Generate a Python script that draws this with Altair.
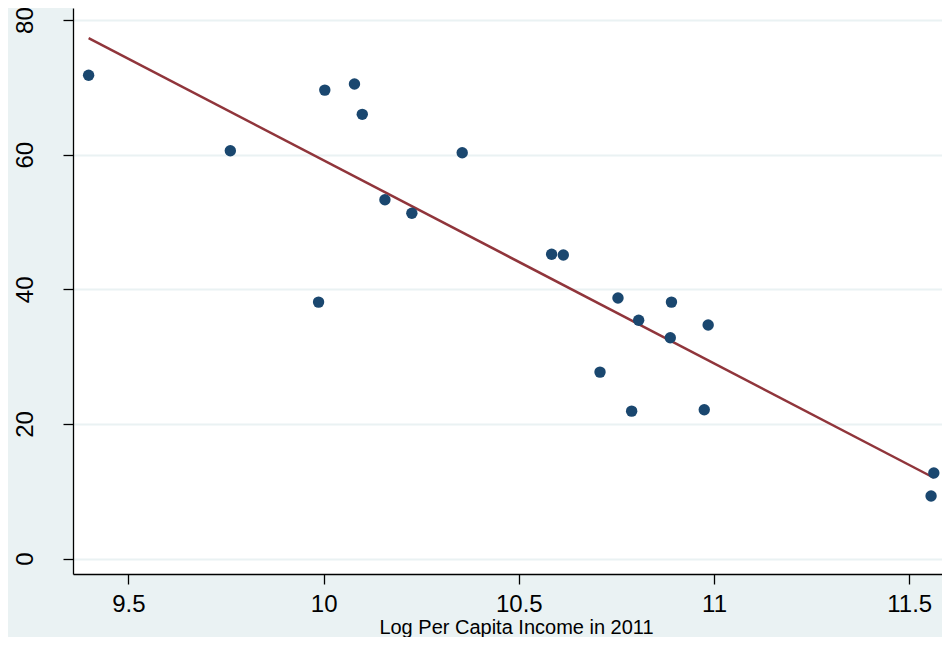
import altair as alt
import pandas as pd

# Data
log_income = [9.398, 9.761, 9.987, 10.003, 10.079, 10.099, 10.157, 10.226, 10.355,
              10.584, 10.614, 10.708, 10.754, 10.789, 10.807, 10.888, 10.891,
              10.975, 10.985, 11.563, 11.556]
outcome = [71.8, 60.6, 38.1, 69.6, 70.5, 66.0, 53.3, 51.3, 60.3,
           45.2, 45.1, 27.7, 38.7, 21.9, 35.4, 32.8, 38.1,
           22.1, 34.7, 12.7, 9.3]

x_ticks = [9.5, 10, 10.5, 11, 11.5]
y_ticks = [0, 20, 40, 60, 80]

df = pd.DataFrame({"x": log_income, "y": outcome})

BG = "#EAF2F3"
NAVY = "#1A476F"
MAROON = "#90353B"
FONT = "Liberation Sans"

xscale = alt.Scale(domain=[9.358, 11.584], nice=False, zero=False)
yscale = alt.Scale(domain=[-2.3, 81.8], nice=False, zero=False)

xaxis = alt.Axis(values=x_ticks, title="Log Per Capita Income in 2011", format="~g",
                 grid=False, domainColor="black", domainWidth=1.3,
                 tickColor="black", tickSize=10, tickWidth=1.3,
                 labelFontSize=24, labelFont=FONT, labelColor="black",
                 labelPadding=8, labelFlush=False,
                 titleFont=FONT, titleFontSize=20, titleFontWeight="normal",
                 titleColor="black", titlePadding=1, titleX=443,
                 titleAlign="center")
yaxis = alt.Axis(values=y_ticks, title=None, format="~g",
                 grid=True, gridColor=BG, gridWidth=2,
                 domainColor="black", domainWidth=1.3,
                 tickColor="black", tickSize=10, tickWidth=1.3,
                 labelFontSize=24, labelFont=FONT, labelColor="black",
                 labelAngle=-90, labelAlign="center", labelBaseline="alphabetic",
                 labelPadding=31, labelFlush=False)

base = alt.Chart(df)

points = base.mark_circle(size=130, color=NAVY, opacity=1).encode(
    x=alt.X("x:Q", scale=xscale, axis=xaxis),
    y=alt.Y("y:Q", scale=yscale, axis=yaxis),
)

fit = base.transform_regression("x", "y").mark_line(
    color=MAROON, strokeWidth=2.5
).encode(
    x=alt.X("x:Q", scale=xscale),
    y=alt.Y("y:Q", scale=yscale),
)

chart = alt.layer(fit, points).properties(
    width=869, height=566,
    background=BG,
    padding={"left": 65, "top": 0, "right": 0, "bottom": 63},
    autosize=alt.AutoSizeParams(type="none"),
).configure_view(fill="white", stroke=None)

chart.save("out.html", embed_options={"renderer": "svg", "actions": False})
